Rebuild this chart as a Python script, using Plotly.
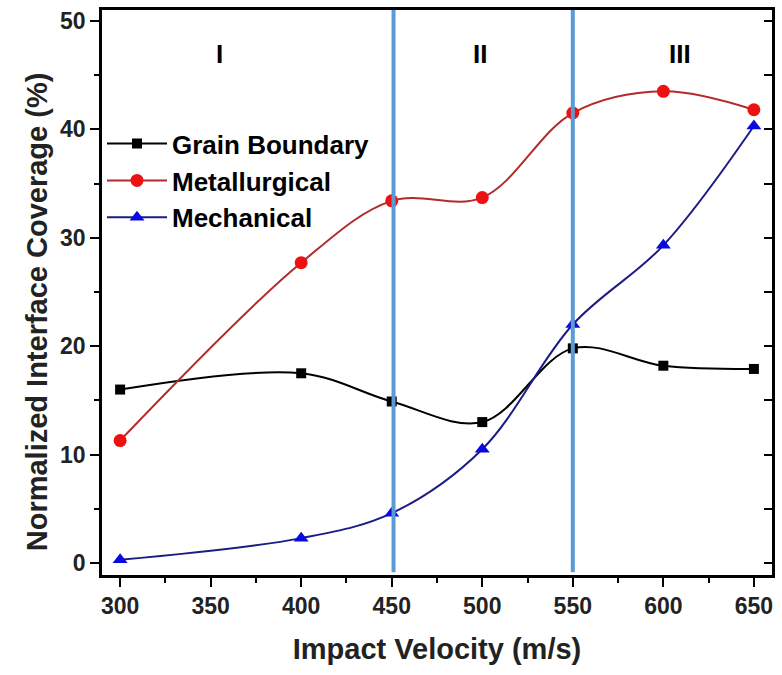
import plotly.graph_objects as go

velocity = [300, 400, 450, 500, 550, 600, 650]
grain_boundary = [16.0, 17.5, 14.9, 13.0, 19.8, 18.2, 17.9]
metallurgical = [11.3, 27.7, 33.4, 33.7, 41.5, 43.5, 41.8]
mechanical = [0.3, 2.3, 4.6, 10.5, 22.0, 29.3, 40.3]
regime_bounds = [451, 550]
regime_labels = ["I", "II", "III"]
regime_label_x = [355, 499, 609]

FONT = "Arial, Liberation Sans, sans-serif"

fig = go.Figure()

fig.add_trace(go.Scatter(
    x=velocity, y=grain_boundary, name="<b>Grain Boundary</b>", mode="lines+markers",
    line=dict(color="black", width=2, shape="spline", smoothing=1.0),
    marker=dict(symbol="square", size=10, color="black"),
))
fig.add_trace(go.Scatter(
    x=velocity, y=metallurgical, name="<b>Metallurgical</b>", mode="lines+markers",
    line=dict(color="#b22a2a", width=2, shape="spline", smoothing=1.0),
    marker=dict(symbol="circle", size=13, color="#ee1111"),
))
fig.add_trace(go.Scatter(
    x=velocity, y=mechanical, name="<b>Mechanical</b>", mode="lines+markers",
    line=dict(color="#1c1c85", width=2, shape="spline", smoothing=1.0),
    marker=dict(symbol="triangle-up", size=13, color="#0a0ae0"),
))
# dummy trace for the mirrored right axis
fig.add_trace(go.Scatter(x=[None], y=[None], yaxis="y2", showlegend=False, hoverinfo="skip"))

for xb in regime_bounds:
    fig.add_shape(type="line", xref="x", yref="paper", x0=xb, x1=xb, y0=0.005, y1=1,
                  line=dict(color="#5b9bd5", width=4), layer="above")

for lbl, lx in zip(regime_labels, regime_label_x):
    fig.add_annotation(x=lx, y=46.9, xref="x", yref="y", text="<b>%s</b>" % lbl,
                       showarrow=False, font=dict(family=FONT, size=26, color="black"))

# y-axis title as annotation (positioned like the reference)
fig.add_annotation(x=-0.0966, y=0.4655, xref="paper", yref="paper",
                   text="<b>Normalized Interface Coverage (%)</b>", textangle=-90,
                   showarrow=False, xanchor="center", yanchor="middle",
                   font=dict(family=FONT, size=29, color="#222"))

yrange = [-1.1, 51.0]
fig.update_layout(
    width=782, height=675,
    margin=dict(l=102, r=7, t=10, b=100),
    paper_bgcolor="white", plot_bgcolor="white",
    font=dict(family=FONT, color="black"),
    showlegend=True,
    legend=dict(x=0.0, y=0.805, xanchor="left", yanchor="top",
                bgcolor="rgba(0,0,0,0)", borderwidth=0,
                font=dict(family=FONT, size=26, color="black"),
                itemwidth=60, tracegroupgap=0),
    xaxis=dict(
        range=[290, 660], tickmode="array", tickvals=[300, 350, 400, 450, 500, 550, 600, 650],
        ticktext=["<b>%d</b>" % v for v in [300, 350, 400, 450, 500, 550, 600, 650]],
        ticks="outside", ticklen=9, tickwidth=2, tickcolor="black",
        minor=dict(tickmode="array", tickvals=[325, 375, 425, 475, 525, 575, 625],
                   ticks="outside", ticklen=5, tickwidth=2, tickcolor="black"),
        showline=True, linewidth=2.5, linecolor="black", mirror=True,
        showgrid=False, zeroline=False,
        tickfont=dict(family=FONT, size=23, color="#222"),
        title=dict(text="<b>Impact Velocity (m/s)</b>", font=dict(family=FONT, size=29, color="#222"),
                   standoff=21),
    ),
    yaxis=dict(
        range=yrange, tickmode="array", tickvals=[0, 10, 20, 30, 40, 50],
        ticktext=["<b>%d</b>" % v for v in [0, 10, 20, 30, 40, 50]],
        ticks="outside", ticklen=9, tickwidth=2, tickcolor="black",
        minor=dict(tickmode="array", tickvals=[5, 15, 25, 35, 45],
                   ticks="outside", ticklen=5, tickwidth=2, tickcolor="black"),
        showline=True, linewidth=2.5, linecolor="black", mirror=True,
        showgrid=False, zeroline=False,
        tickfont=dict(family=FONT, size=23, color="#222"),
    ),
    yaxis2=dict(
        range=yrange, overlaying="y", side="right", anchor="x",
        tickmode="array", tickvals=[0, 5, 10, 15, 20, 25, 30, 35, 40, 45, 50],
        ticks="inside", ticklen=8, tickwidth=2, tickcolor="black",
        showticklabels=False, showgrid=False, zeroline=False, showline=False,
    ),
)

fig.write_html("out.html")
